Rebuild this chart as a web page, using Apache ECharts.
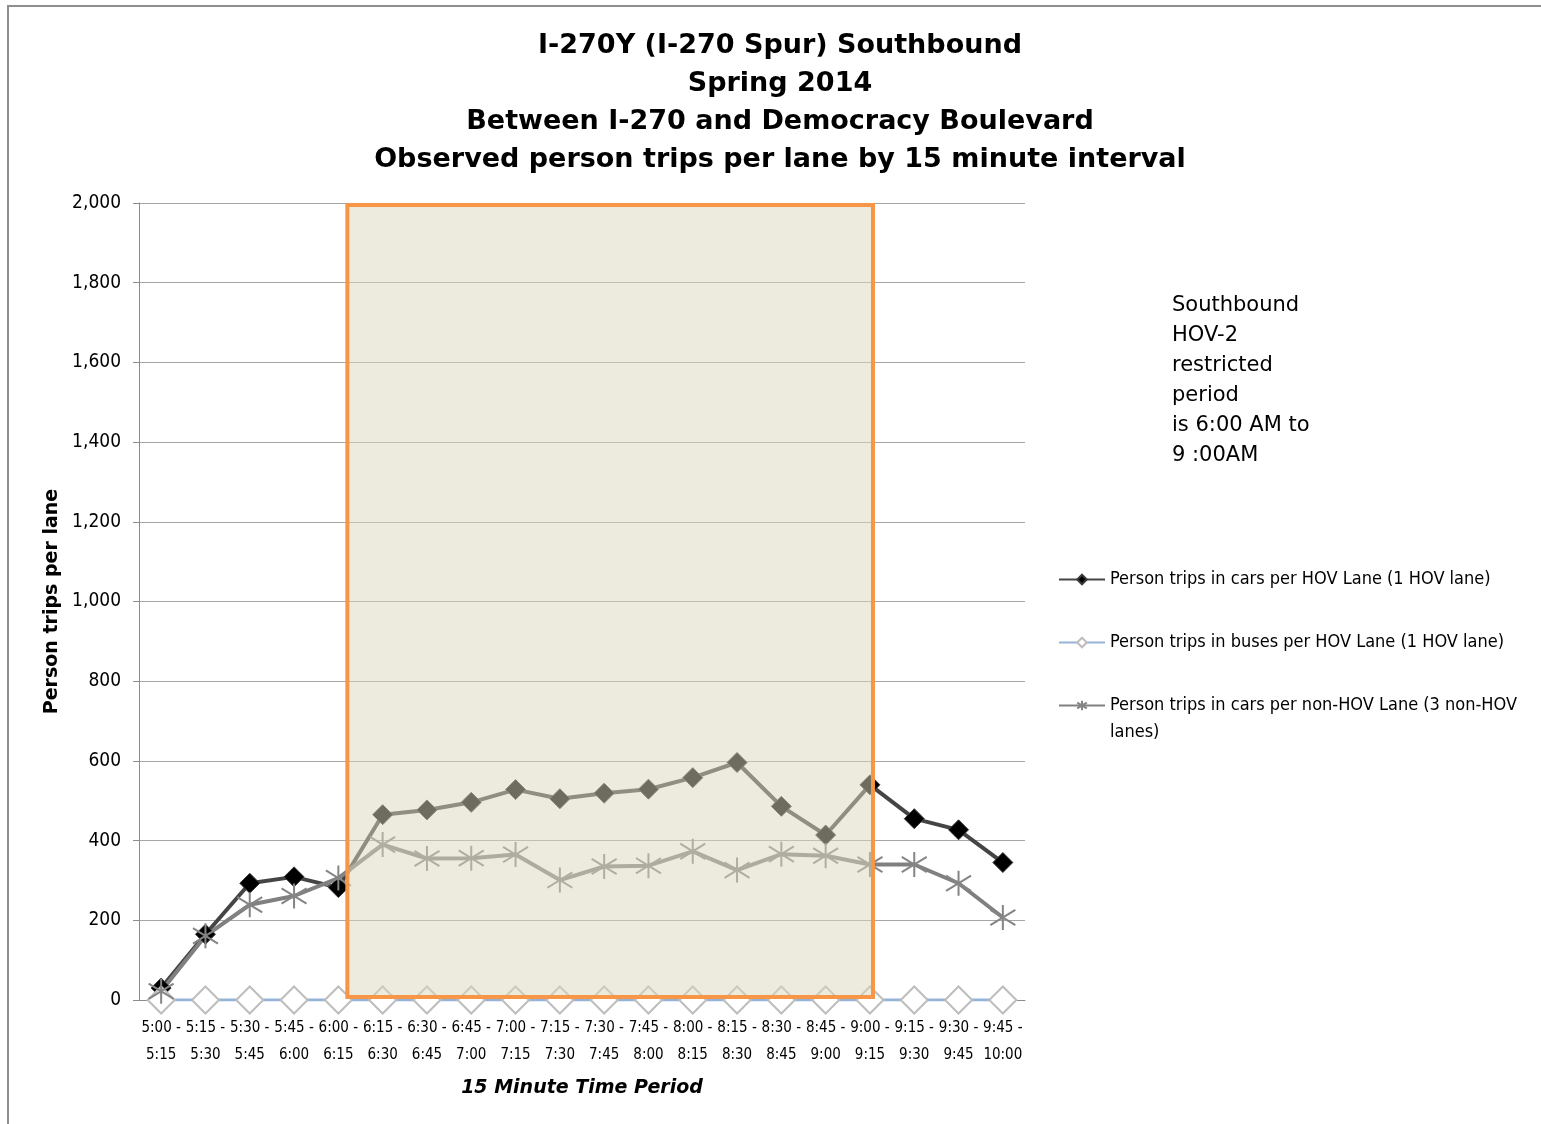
<!DOCTYPE html>
<html>
<head>
<meta charset="utf-8">
<title>I-270Y Southbound person trips</title>
<script src="https://cdn.jsdelivr.net/npm/echarts@6/dist/echarts.min.js"></script>
<style>
html, body { margin: 0; padding: 0; background: #fff; }
.frame {
  position: absolute; left: 7px; top: 5px; width: 1534px; height: 1119px;
  border-top: 2px solid #8e8e8e; border-left: 2px solid #8e8e8e; box-sizing: border-box;
}
.chart { position: absolute; left: 0; top: 0; width: 1541px; height: 1124px; }
</style>
</head>
<body>
<div class="frame"></div>
<div class="chart" id="chart"></div>
<script>
// 15 minute periods
var periods = [
  '5:00 - 5:15', '5:15 - 5:30', '5:30 - 5:45', '5:45 - 6:00', '6:00 - 6:15',
  '6:15 - 6:30', '6:30 - 6:45', '6:45 - 7:00', '7:00 - 7:15', '7:15 - 7:30',
  '7:30 - 7:45', '7:45 - 8:00', '8:00 - 8:15', '8:15 - 8:30', '8:30 - 8:45',
  '8:45 - 9:00', '9:00 - 9:15', '9:15 - 9:30', '9:30 - 9:45', '9:45 - 10:00'
]
// person trips in cars per HOV lane
var hovCarTrips = [30, 165, 293, 309, 282, 465, 477, 496, 528, 505, 519, 529, 558, 596, 486, 414, 540, 455, 427, 345]
// person trips in buses per HOV lane
var hovBusTrips = [0, 0, 0, 0, 0, 0, 0, 0, 0, 0, 0, 0, 0, 0, 0, 0, 0, 0, 0, 0]
// person trips in cars per non-HOV lane
var nonHovCarTrips = [22, 161, 239, 261, 306, 390, 355, 356, 365, 301, 335, 337, 373, 326, 366, 362, 340, 340, 293, 207]
// HOV-2 restricted period (first and last shaded period)
var restrictedPeriod = ['6:00 - 6:15', '9:00 - 9:15']
var yMin = 0
var yMax = 2000
var yStep = 200

var seriesNames = [
  'Person trips in cars per HOV Lane (1 HOV lane)',
  'Person trips in buses per HOV Lane (1 HOV lane)',
  'Person trips in cars per non-HOV Lane (3 non-HOV lanes)'
]
var titleText = 'I-270Y (I-270 Spur) Southbound\nSpring 2014\nBetween I-270 and Democracy Boulevard\nObserved person trips per lane by 15 minute interval'
var noteText = 'Southbound\nHOV-2\nrestricted\nperiod\nis 6:00 AM to\n9 :00AM'

var narrow = '"Liberation Sans Narrow", "DejaVu Sans Condensed", sans-serif'
var asterisk = 'path://M1,5L25,21M25,5L1,21M13,0L13,26'

function initChart() {
  var myChart = echarts.init(document.getElementById('chart'), null, { renderer: 'canvas' })
  var legendTops = [566, 629, 665]
  var option = {
    animation: false,
    title: [
      {
        text: titleText,
        left: 780,
        top: 27,
        padding: 0,
        textAlign: 'center',
        textStyle: { fontFamily: '"DejaVu Sans"', fontWeight: 'bold', fontSize: 27, lineHeight: 38, color: '#000' }
      },
      {
        text: noteText,
        left: 1172,
        top: 291,
        padding: 0,
        textStyle: { fontFamily: '"DejaVu Sans"', fontWeight: 'normal', fontSize: 21, lineHeight: 30, color: '#000' }
      }
    ],
    // one legend per item so the wrapped last item lines up like the original
    legend: [0, 1, 2].map(function (i) {
      return {
        orient: 'vertical',
        left: 1058,
        top: legendTops[i],
        padding: 0,
        itemWidth: 46,
        itemHeight: 12,
        selectedMode: false,
        data: [seriesNames[i]],
        formatter: function (name) {
          // blank first line keeps the icon on the first text line
          return name.indexOf(' lanes)') > 0 ? ' \n' + name.replace(' lanes)', '\nlanes)') : name
        },
        textStyle: { fontFamily: narrow, fontSize: 18, lineHeight: 27, color: '#000' }
      }
    }),
    grid: { left: 139, right: 516, top: 203, bottom: 124, containLabel: false },
    xAxis: {
      type: 'category',
      data: periods,
      boundaryGap: true,
      name: '15 Minute Time Period',
      nameLocation: 'middle',
      nameGap: 79,
      nameTextStyle: { fontFamily: '"DejaVu Sans"', fontWeight: 'bold', fontStyle: 'italic', fontSize: 19, color: '#000' },
      axisLine: { show: true, lineStyle: { color: '#8c8c8c', width: 1 } },
      axisTick: { show: true, inside: true, alignWithLabel: true, length: 5, lineStyle: { color: '#8c8c8c' } },
      axisLabel: {
        interval: 0,
        margin: 15,
        fontFamily: narrow,
        fontSize: 15,
        lineHeight: 27,
        color: '#000',
        formatter: function (v) {
          return v.replace(' - ', ' -\n')
        }
      },
      splitLine: { show: false }
    },
    yAxis: {
      type: 'value',
      min: yMin,
      max: yMax,
      interval: yStep,
      name: 'Person trips per lane',
      nameLocation: 'middle',
      nameGap: 76,
      nameTextStyle: { fontFamily: '"DejaVu Sans"', fontWeight: 'bold', fontSize: 19, color: '#000' },
      axisLine: { show: true, lineStyle: { color: '#8c8c8c', width: 1 } },
      axisTick: { show: true, inside: false, length: 6, lineStyle: { color: '#8c8c8c' } },
      axisLabel: {
        margin: 18,
        fontFamily: narrow,
        fontSize: 19,
        color: '#000',
        formatter: function (v) {
          return v.toLocaleString('en-US')
        }
      },
      splitLine: { show: true, lineStyle: { color: '#a6a6a6', width: 1 } }
    },
    series: [
      {
        name: seriesNames[0],
        type: 'line',
        data: hovCarTrips,
        symbol: 'diamond',
        symbolSize: 20,
        lineStyle: { color: '#454545', width: 4 },
        itemStyle: { color: '#000', borderColor: '#3a3a3a', borderWidth: 1 }
      },
      {
        name: seriesNames[1],
        type: 'line',
        data: hovBusTrips,
        symbol: 'diamond',
        symbolSize: 27,
        lineStyle: { color: '#95b3d7', width: 3 },
        itemStyle: { color: '#fff', borderColor: '#bdbdbd', borderWidth: 2 }
      },
      {
        name: seriesNames[2],
        type: 'line',
        data: nonHovCarTrips,
        symbol: asterisk,
        symbolSize: 25,
        lineStyle: { color: '#808080', width: 4 },
        itemStyle: { color: 'rgba(0,0,0,0)', borderColor: '#858585', borderWidth: 2 }
      },
      {
        // shaded restricted period, drawn over the lines
        type: 'custom',
        z: 10,
        silent: true,
        data: [[periods.indexOf(restrictedPeriod[0]), periods.indexOf(restrictedPeriod[1])]],
        renderItem: function (params, api) {
          var p0 = api.coord([api.value(0), yMax])
          var p1 = api.coord([api.value(1), yMin])
          var x0 = p0[0] + 9
          var x1 = p1[0] + 3
          var y0 = p0[1] + 2
          var y1 = p1[1] - 3
          return {
            type: 'rect',
            shape: { x: x0, y: y0, width: x1 - x0, height: y1 - y0 },
            style: { fill: 'rgba(217,215,190,0.5)', stroke: '#f79646', lineWidth: 4 }
          }
        }
      }
    ]
  }
  myChart.setOption(option)
  window.addEventListener('resize', function () {
    myChart.resize()
  })
}

initChart()
</script>
</body>
</html>
